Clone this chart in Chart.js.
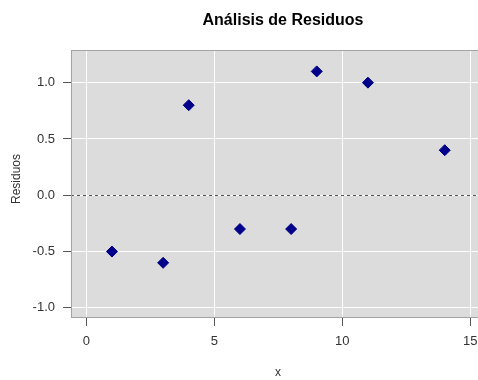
<!DOCTYPE html>
<html>
<head>
<meta charset="utf-8">
<script src="https://cdn.jsdelivr.net/npm/chart.js@4"></script>
<style>
	html, body { margin: 0; padding: 0; background: #fff; }
	#wrap { width: 478px; height: 380px; }
</style>
</head>
<body>
<div id="wrap"><canvas id="residuos" width="478" height="380"></canvas></div>
<script>
const xValues = [1, 3, 4, 6, 8, 9, 11, 14];
const residuals = [-0.5, -0.6, 0.8, -0.3, -0.3, 1.1, 1.0, 0.4];
const xTicks = [0, 5, 10, 15];
const yTicks = [-1.0, -0.5, 0.0, 0.5, 1.0];
const refLine = 0;

const chartTitle = "Análisis de Residuos";
const xTitle = "x";
const yTitle = "Residuos";

const FONT = "'Liberation Sans', Arial, sans-serif";

class ResidualPlot {
	static panelPlugin() {
		return {
			id: "panel",
			beforeDraw(chart) {
				const { ctx, chartArea: a } = chart;
				ctx.save();
				ctx.fillStyle = "#dcdcdc";
				ctx.fillRect(a.left, a.top, a.right - a.left, a.bottom - a.top);
				ctx.restore();
			},
			beforeDatasetsDraw(chart) {
				const { ctx, chartArea: a } = chart;
				const y0 = chart.scales.y.getPixelForValue(refLine);
				ctx.save();
				// dashed zero line
				ctx.strokeStyle = "#555";
				ctx.lineWidth = 1;
				ctx.setLineDash([3, 3]);
				ctx.beginPath();
				ctx.moveTo(a.left, Math.round(y0) + 0.5);
				ctx.lineTo(a.right, Math.round(y0) + 0.5);
				ctx.stroke();
				ctx.setLineDash([]);
				// panel border
				ctx.strokeStyle = "#a3a3a3";
				ctx.strokeRect(a.left + 0.5, a.top + 0.5, a.right - a.left, a.bottom - a.top - 1);
				// titles
				ctx.fillStyle = "#000";
				ctx.textAlign = "center";
				ctx.textBaseline = "middle";
				ctx.font = "bold 16px " + FONT;
				ctx.fillText(chartTitle, 283, 21);
				ctx.fillStyle = "#333";
				ctx.font = "12px " + FONT;
				ctx.fillText(xTitle, 278, 373);
				ctx.translate(17, 179);
				ctx.rotate(-Math.PI / 2);
				ctx.fillText(yTitle, 0, 0);
				ctx.restore();
			},
		};
	}

	static create(canvas) {
		const tickFont = { family: FONT, size: 13 };
		return new Chart(canvas, {
			type: "scatter",
			data: {
				datasets: [
					{
						data: xValues.map((x, i) => ({ x: x, y: residuals[i] })),
						pointStyle: "rectRot",
						pointRadius: 5.5,
						pointBorderWidth: 1,
						backgroundColor: "#00008b",
						borderColor: "#00008b",
					},
				],
			},
			options: {
				responsive: false,
				animation: false,
				layout: {
					autoPadding: false,
					padding: { top: 50, right: 0, left: 0, bottom: 0 },
				},
				plugins: {
					legend: { display: false },
					tooltip: { enabled: false },
				},
				scales: {
					x: {
						type: "linear",
						min: -0.6,
						max: 15.3,
						afterBuildTicks: (s) => {
							s.ticks = xTicks.map((v) => ({ value: v }));
						},
						afterFit: (s) => {
							s.height = 62;
							s.paddingLeft = 0;
							s.paddingRight = 0;
						},
						border: { display: false },
						grid: {
							color: "#ffffff",
							lineWidth: 1,
							tickColor: "#555",
							tickLength: 8,
						},
						ticks: {
							color: "#333",
							font: tickFont,
							padding: 8,
							maxRotation: 0,
							callback: (v) => String(v),
						},
					},
					y: {
						min: -1.09,
						max: 1.29,
						afterBuildTicks: (s) => {
							s.ticks = yTicks.map((v) => ({ value: v }));
						},
						afterFit: (s) => {
							s.width = 71;
						},
						border: { display: false },
						grid: {
							color: "#ffffff",
							lineWidth: 1,
							tickColor: "#555",
							tickLength: 8,
						},
						ticks: {
							color: "#333",
							font: tickFont,
							padding: 8,
							callback: (v) => v.toFixed(1),
						},
					},
				},
			},
			plugins: [ResidualPlot.panelPlugin()],
		});
	}
}

const chart = ResidualPlot.create(document.getElementById("residuos"));
</script>
</body>
</html>
